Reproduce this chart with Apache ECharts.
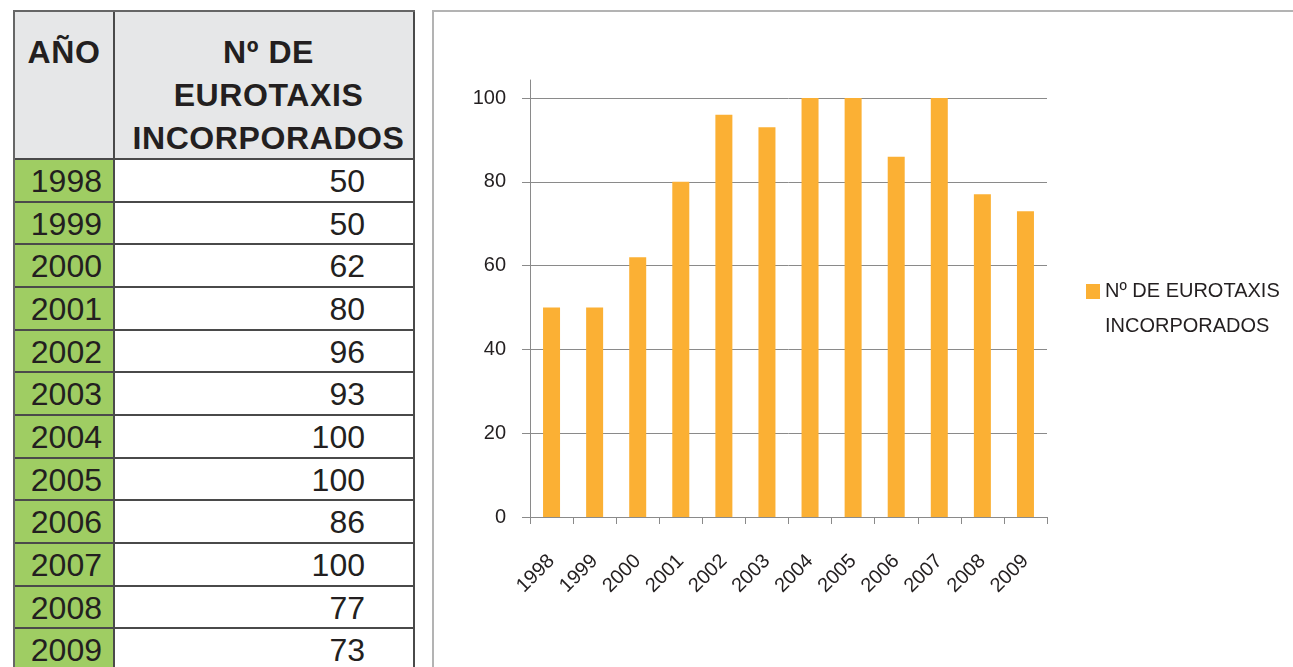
<!DOCTYPE html>
<html>
<head>
<meta charset="utf-8">
<script src="https://cdn.jsdelivr.net/npm/echarts@6/dist/echarts.min.js"></script>
<style>
  html, body { margin: 0; padding: 0; background: #fff; }
  body {
    width: 1293px; height: 667px; overflow: hidden; position: relative;
    font-family: 'Liberation Sans', Arial, sans-serif; color: #231f20;
  }
  #frame {
    position: absolute; left: 432px; top: 10px; width: 900px; height: 700px;
    border-left: 2px solid #b3b3b3; border-top: 2px solid #b3b3b3;
  }
  #chart { position: absolute; left: 0; top: 0; width: 1293px; height: 667px; }
  #table {
    position: absolute; left: 13px; top: 10px; width: 400px; height: 700px;
    border-left: 2px solid #666; border-top: 2px solid #666;
  }
  .cell {
    position: absolute; box-sizing: border-box;
    border-right: 2px solid #4a4a4a; border-bottom: 2px solid #4a4a4a;
    font-size: 32px; white-space: nowrap;
  }
  .head {
    background: #e6e7e8; font-weight: bold; text-align: center;
    padding-top: 19px; line-height: 43px; letter-spacing: 0.6px;
  }
  .head.wide { padding-left: 9px; }
  .year { background: #9fcd63; text-align: right; padding-right: 11px; }
  .val { background: #fff; text-align: right; padding-right: 48px; }
</style>
</head>
<body>
<div id="frame"></div>
<div id="chart"></div>
<div id="table"></div>
<script>
// datos
const years = ['1998', '1999', '2000', '2001', '2002', '2003', '2004', '2005', '2006', '2007', '2008', '2009']
const eurotaxis = [50, 50, 62, 80, 96, 93, 100, 100, 86, 100, 77, 73]
const headYear = 'AÑO'
const headValue = ['Nº DE', 'EUROTAXIS', 'INCORPORADOS']
const seriesName = 'Nº DE EUROTAXIS INCORPORADOS'

// tabla de la izquierda
const table = document.getElementById('table')
const colW = [100, 300]
const headH = 148
const rowH = 42.67

function addCell(cls, x, y, w, h, html, lh) {
  const d = document.createElement('div')
  d.className = 'cell ' + cls
  d.style.left = x + 'px'
  d.style.top = y + 'px'
  d.style.width = w + 'px'
  d.style.height = h + 'px'
  if (lh) d.style.lineHeight = lh + 'px'
  d.innerHTML = html
  table.appendChild(d)
}

addCell('head', 0, 0, colW[0], headH, headYear)
addCell('head wide', colW[0], 0, colW[1], headH, headValue.join('<br>'))
years.forEach((y, i) => {
  const top = headH + i * rowH
  addCell('year', 0, top, colW[0], rowH, y, rowH)
  addCell('val', colW[0], top, colW[1], rowH, eurotaxis[i], rowH)
})

// grafico
const chart = echarts.init(document.getElementById('chart'))
const axisColor = '#8a8a8a'
const textColor = '#231f20'
const font = 'Liberation Sans'

chart.setOption({
  animation: false,
  textStyle: { fontFamily: font },
  grid: [
    { left: 530, right: 246, top: 98, bottom: 150 },
    { left: 530, right: 246, top: 80, bottom: 150 }
  ],
  legend: {
    data: [seriesName],
    left: 1086,
    top: 239,
    padding: 0,
    icon: 'rect',
    itemWidth: 14,
    itemHeight: 15,
    // linea vacia delante para que el cuadrado quede a la altura de la primera linea
    formatter: name => '\n' + name.replace(' EUROTAXIS ', ' EUROTAXIS\n'),
    textStyle: { fontSize: 20, color: textColor, fontFamily: font, lineHeight: 35 }
  },
  xAxis: [{
    type: 'category',
    data: years,
    gridIndex: 0,
    axisLine: { lineStyle: { color: axisColor, width: 1 } },
    axisTick: { show: true, length: 7, lineStyle: { color: axisColor } },
    axisLabel: { rotate: 45, interval: 0, fontSize: 20, color: textColor, margin: 41 }
  }, {
    type: 'category',
    data: years,
    gridIndex: 1,
    show: false
  }],
  yAxis: [{
    type: 'value',
    gridIndex: 0,
    min: 0,
    max: 100,
    interval: 20,
    axisLine: { show: true, lineStyle: { color: axisColor, width: 1 } },
    axisTick: { show: true, length: 8, lineStyle: { color: axisColor } },
    axisLabel: { fontSize: 20, color: textColor, margin: 24 },
    splitLine: { show: true, lineStyle: { color: axisColor, width: 1 } }
  }, {
    // el eje vertical sobresale un poco por encima de 100
    type: 'value',
    gridIndex: 1,
    min: 0,
    max: 104.3,
    axisLine: { show: true, lineStyle: { color: axisColor, width: 1 } },
    axisTick: { show: false },
    axisLabel: { show: false },
    splitLine: { show: false }
  }],
  series: [{
    name: seriesName,
    type: 'bar',
    xAxisIndex: 0,
    yAxisIndex: 0,
    data: eurotaxis,
    barWidth: 17,
    itemStyle: { color: '#fbb034' }
  }]
})
</script>
</body>
</html>
